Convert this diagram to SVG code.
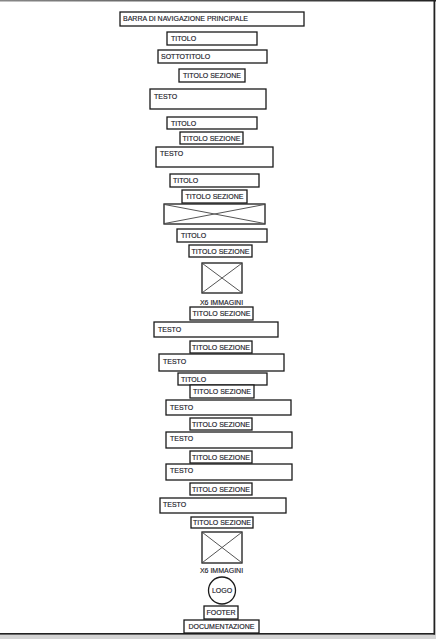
<svg xmlns="http://www.w3.org/2000/svg" width="436" height="639" viewBox="0 0 436 639">
<defs>
<linearGradient id="topg" x1="0" x2="1" y1="0" y2="0"><stop offset="0" stop-color="#888"/><stop offset="1" stop-color="#222"/></linearGradient>
<style>
.b{fill:#fff;stroke:#1a1a1a;stroke-width:1.3}
.t{font-family:"Liberation Sans",Arial,sans-serif;font-size:7px;fill:#1c1c2a;stroke:#1c1c2a;stroke-width:0.15}
.c{text-anchor:middle}
.x{stroke:#555;stroke-width:1}
</style>
</defs>
<rect width="436" height="639" fill="#fff"/>
<g id="page">
<rect x="0" y="0" width="436" height="1.5" fill="url(#topg)"/>
<rect x="433.5" y="0" width="1.8" height="635" fill="#222"/>
<rect x="0" y="633" width="435" height="1.8" fill="#222"/>
<rect x="0" y="634.8" width="436" height="4.2" fill="#d4d4d4"/>
</g>
<g id="connectors"/>
<g id="n1"><rect class="b" x="120" y="12" width="184" height="14"/><text class="t" x="123" y="21">BARRA DI NAVIGAZIONE PRINCIPALE</text></g>
<g id="n2"><rect class="b" x="167" y="32" width="90" height="13"/><text class="t" x="171" y="41">TITOLO</text></g>
<g id="n3"><rect class="b" x="158" y="50" width="109" height="13"/><text class="t" x="161" y="59">SOTTOTITOLO</text></g>
<g id="n4"><rect class="b" x="179" y="69" width="66" height="13"/><text class="t c" x="212" y="78">TITOLO SEZIONE</text></g>
<g id="n5"><rect class="b" x="150" y="89" width="116" height="20"/><text class="t" x="154" y="99">TESTO</text></g>
<g id="n6"><rect class="b" x="167" y="117" width="90" height="12"/><text class="t" x="171" y="125.5">TITOLO</text></g>
<g id="n7"><rect class="b" x="180" y="132" width="63" height="12"/><text class="t c" x="211.5" y="140.5">TITOLO SEZIONE</text></g>
<g id="n8"><rect class="b" x="156" y="147" width="117" height="20"/><text class="t" x="160" y="156">TESTO</text></g>
<g id="n9"><rect class="b" x="170" y="174" width="89" height="13"/><text class="t" x="173" y="183">TITOLO</text></g>
<g id="n10"><rect class="b" x="182" y="190" width="65" height="13"/><text class="t c" x="214.5" y="199">TITOLO SEZIONE</text></g>
<g id="n11"><rect class="b" x="164" y="204" width="101" height="20"/><line class="x" x1="164.5" y1="204.5" x2="264.5" y2="223.5"/><line class="x" x1="264.5" y1="204.5" x2="164.5" y2="223.5"/></g>
<g id="n12"><rect class="b" x="177" y="229" width="90" height="13"/><text class="t" x="181" y="238">TITOLO</text></g>
<g id="n13"><rect class="b" x="189" y="245" width="63" height="12"/><text class="t c" x="220.5" y="253.5">TITOLO SEZIONE</text></g>
<g id="n14"><rect class="b" x="202" y="263" width="40" height="30"/><line class="x" x1="202.5" y1="263.5" x2="241.5" y2="292.5"/><line class="x" x1="241.5" y1="263.5" x2="202.5" y2="292.5"/></g>
<g id="n15"><text class="t c" x="221.5" y="304.5">X6 IMMAGINI</text></g>
<g id="n16"><rect class="b" x="190" y="307" width="63" height="13"/><text class="t c" x="221.5" y="316">TITOLO SEZIONE</text></g>
<g id="n17"><rect class="b" x="154" y="322" width="124" height="15"/><text class="t" x="158" y="331.5">TESTO</text></g>
<g id="n18"><rect class="b" x="190" y="341" width="62" height="12"/><text class="t c" x="221" y="349.5">TITOLO SEZIONE</text></g>
<g id="n19"><rect class="b" x="159" y="354" width="125" height="17"/><text class="t" x="163" y="363.5">TESTO</text></g>
<g id="n20"><rect class="b" x="178" y="373" width="89" height="12"/><text class="t" x="181" y="381.5">TITOLO</text></g>
<g id="n21"><rect class="b" x="190" y="385" width="64" height="13"/><text class="t c" x="222" y="394">TITOLO SEZIONE</text></g>
<g id="n22"><rect class="b" x="166" y="400" width="125" height="15"/><text class="t" x="170" y="409.5">TESTO</text></g>
<g id="n23"><rect class="b" x="190" y="418" width="62" height="12"/><text class="t c" x="221" y="426.5">TITOLO SEZIONE</text></g>
<g id="n24"><rect class="b" x="166" y="432" width="126" height="16"/><text class="t" x="170" y="441">TESTO</text></g>
<g id="n25"><rect class="b" x="190" y="451" width="62" height="12"/><text class="t c" x="221" y="459.5">TITOLO SEZIONE</text></g>
<g id="n26"><rect class="b" x="166" y="464" width="126" height="16"/><text class="t" x="170" y="473">TESTO</text></g>
<g id="n27"><rect class="b" x="190" y="483" width="62" height="12"/><text class="t c" x="221" y="491.5">TITOLO SEZIONE</text></g>
<g id="n28"><rect class="b" x="160" y="498" width="126" height="15"/><text class="t" x="163" y="507">TESTO</text></g>
<g id="n29"><rect class="b" x="191" y="517" width="62" height="11"/><text class="t c" x="222" y="525">TITOLO SEZIONE</text></g>
<g id="n30"><rect class="b" x="202" y="532" width="40" height="31"/><line class="x" x1="202.5" y1="532.5" x2="241.5" y2="562.5"/><line class="x" x1="241.5" y1="532.5" x2="202.5" y2="562.5"/></g>
<g id="n31"><text class="t c" x="221.5" y="572.5">X6 IMMAGINI</text></g>
<g id="n32"><circle class="b" cx="222" cy="590.5" r="13.5"/><text class="t c" x="222" y="593">LOGO</text></g>
<g id="n33"><rect class="b" x="204" y="606" width="34" height="13"/><text class="t c" x="221" y="615">FOOTER</text></g>
<g id="n34"><rect class="b" x="184" y="620" width="75" height="13"/><text class="t c" x="221.5" y="629">DOCUMENTAZIONE</text></g>
</svg>
